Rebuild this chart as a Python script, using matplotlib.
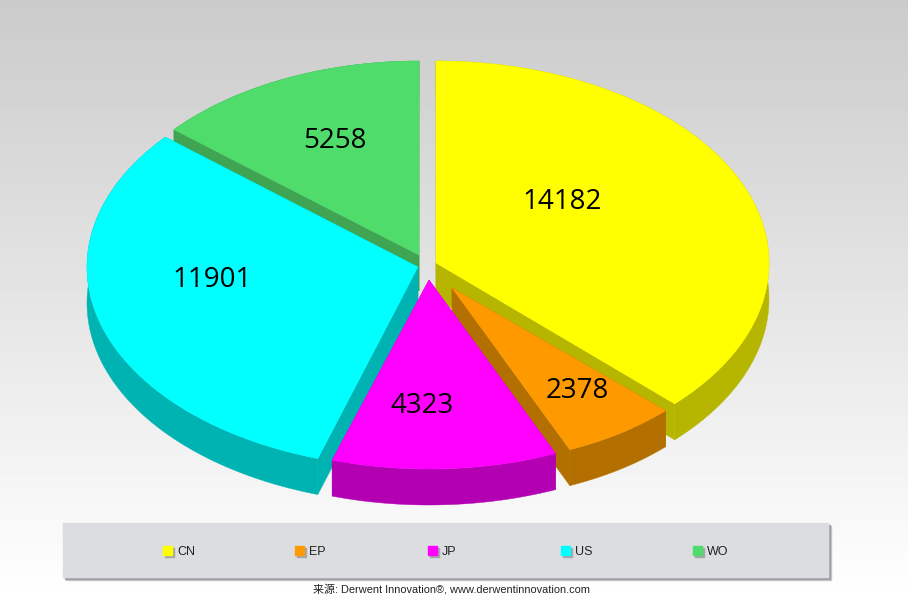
import numpy as np
import matplotlib
matplotlib.use('Agg')
import matplotlib.pyplot as plt
from matplotlib.patches import Polygon, Rectangle

categories = ['CN', 'EP', 'JP', 'US', 'WO']
values = [14182, 2378, 4323, 11901, 5258]

top_colors = ['#ffff00', '#ff9900', '#ff00ff', '#00ffff', '#50dc6a']
side_colors = ['#b6b600', '#b37000', '#b300b3', '#00b3b3', '#40a552']

# apex x, apex y, radius x, radius y of each slice, in image pixels (slices are exploded)
apex = {'CN': (436, 263, 333, 202), 'EP': (452, 288, 298, 176), 'JP': (429, 280, 320, 189),
        'US': (418, 267, 331, 201), 'WO': (419, 255, 321, 194)}
label_pos = {'CN': (562, 202), 'EP': (577, 391), 'JP': (422, 406), 'US': (212, 280), 'WO': (335, 141)}
depth = 36
draw_order = ['WO', 'CN', 'US', 'EP', 'JP']

source = '来源: Derwent Innovation®, www.derwentinnovation.com'

fig = plt.figure(figsize=(9.08, 6.16), dpi=100)
ax = fig.add_axes([0, 0, 1, 1])

# grey to white background
grad = np.linspace(0.795, 1.0, 300).reshape(-1, 1)
ax.imshow(grad, extent=(0, 908, 600, 0), cmap='gray', vmin=0, vmax=1, aspect='auto', zorder=0)
ax.add_patch(Rectangle((0, 600), 908, 16, color='white', zorder=0))
ax.set_xlim(0, 908)
ax.set_ylim(616, 0)
ax.axis('off')

# slice angles, clockwise from 12 o'clock
fracs = np.array(values) / sum(values)
ends = np.cumsum(fracs) * 2 * np.pi
starts = ends - fracs * 2 * np.pi


def arc_points(cat):
    i = categories.index(cat)
    cx, cy, rx, ry = apex[cat]
    t = np.linspace(starts[i], ends[i], 120)
    return np.column_stack([cx + rx * np.sin(t), cy - ry * np.cos(t)])


z = 2
for cat in draw_order:
    i = categories.index(cat)
    cx, cy = apex[cat][:2]
    arc = arc_points(cat)
    down = np.array([0, depth])
    side = side_colors[i]
    # the two cut faces and the outer rim
    for p in (arc[0], arc[-1]):
        quad = [(cx, cy), p, p + down, (cx, cy + depth)]
        ax.add_patch(Polygon(quad, closed=True, fc=side, ec=side, lw=0.3, zorder=z))
    rim = np.vstack([arc, (arc + down)[::-1]])
    ax.add_patch(Polygon(rim, closed=True, fc=side, ec=side, lw=0.3, zorder=z))
    top = np.vstack([[(cx, cy)], arc])
    ax.add_patch(Polygon(top, closed=True, fc=top_colors[i], ec=top_colors[i], lw=0.3, zorder=z + 1))
    z += 2

for i, cat in enumerate(categories):
    x, y = label_pos[cat]
    ax.text(x, y, str(values[i]), fontsize=20, family='Open Sans', color='black',
            ha='center', va='center', zorder=20)

# legend strip, two layers of shadow to soften it
ax.add_patch(Rectangle((66, 526), 765, 54, color='#c9cacc', zorder=21))
ax.add_patch(Rectangle((65, 525), 765, 54, color='#a2a3a6', zorder=21))
ax.add_patch(Rectangle((63, 523), 765, 54, color='#dcdde1', zorder=22))
legend_x = [163, 295, 428, 561, 693]
for i, cat in enumerate(categories):
    x = legend_x[i]
    ax.add_patch(Rectangle((x + 2, 548), 9, 9, color='#a5a6a9', zorder=23))
    ax.add_patch(Rectangle((x, 546), 9, 9, color=top_colors[i], zorder=24))
    ax.text(x + 14, 552, cat, fontsize=9, family='Liberation Sans', color='#222222',
            ha='left', va='center', zorder=24)

ax.text(451.5, 589, source, fontsize=7.95, family=['Liberation Sans', 'Noto Sans CJK SC'],
        color='#222222', ha='center', va='center', zorder=24)

fig.savefig('out.png', dpi=100)
